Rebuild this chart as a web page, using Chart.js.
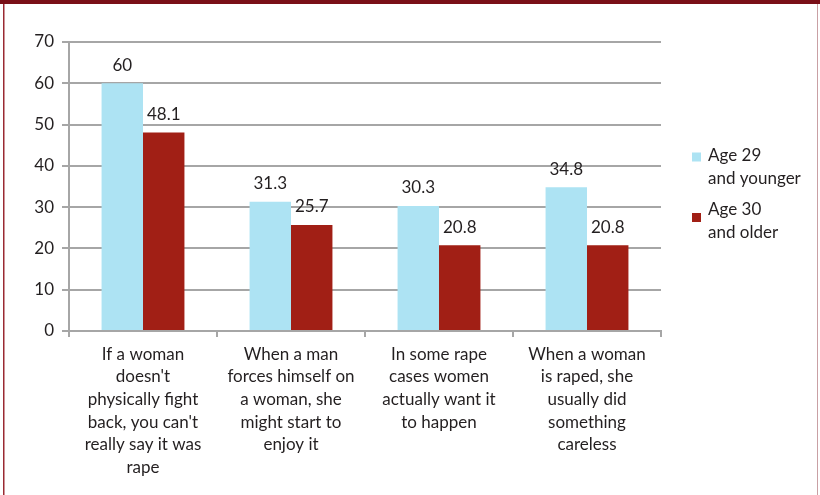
<!DOCTYPE html>
<html>
<head>
<meta charset="utf-8">
<script src="https://cdn.jsdelivr.net/npm/chart.js@4"></script>
<style>
  html, body { margin: 0; padding: 0; background: #fff; }
  #wrap { width: 820px; height: 495px; position: relative; }
</style>
</head>
<body>
<div id="wrap"><canvas id="myChart" width="820" height="495"></canvas></div>
<script>
// data
var categories = [
  ["If a woman", "doesn't", "physically fight", "back, you can't", "really say it was", "rape"],
  ["When a man", "forces himself on", "a woman, she", "might start to", "enjoy it"],
  ["In some rape", "cases women", "actually want it", "to happen"],
  ["When a woman", "is raped, she", "usually did", "something", "careless"]
];
var seriesNames = [["Age 29", "and younger"], ["Age 30", "and older"]];
var youngValues = [60, 31.3, 30.3, 34.8];
var olderValues = [48.1, 25.7, 20.8, 20.8];
var yTicks = [0, 10, 20, 30, 40, 50, 60, 70];

var FONT = "Lato, 'Open Sans', sans-serif";
var TEXT = "#231f20";
var GRID = "#a6a6a6";
var colors = ["#ade3f3", "#a11f15"];

// frame, value labels and legend
var extras = {
  id: "extras",
  beforeDraw: function(chart) {
    var c = chart.ctx;
    c.save();
    c.fillStyle = "#fff";
    c.fillRect(0, 0, chart.width, chart.height);
    c.fillStyle = "#7a0f17";
    c.fillRect(0, 0, chart.width, 4);
    c.fillStyle = "#9a2a32";
    c.fillRect(3, 4, 1.5, chart.height - 4);
    c.fillStyle = "#c9a0a4";
    c.fillRect(817, 4, 1, chart.height - 4);
    c.restore();
  },
  afterDatasetsDraw: function(chart) {
    var c = chart.ctx;
    c.save();
    c.font = "17px " + FONT;
    c.fillStyle = TEXT;
    c.textAlign = "center";
    c.textBaseline = "middle";
    chart.data.datasets.forEach(function(ds, i) {
      chart.getDatasetMeta(i).data.forEach(function(bar, j) {
        c.fillText(String(ds.data[j]), bar.x, bar.y - 18);
      });
    });
    // legend
    var tops = [156, 210];
    var sq = [157, 217.5];
    c.textAlign = "left";
    chart.data.datasets.forEach(function(ds, i) {
      c.fillStyle = ds.backgroundColor;
      c.fillRect(692, sq[i] - 4.5, 9, 9);
      c.fillStyle = TEXT;
      seriesNames[i].forEach(function(line, k) {
        c.fillText(line, 708, tops[i] + k * 22.5);
      });
    });
    c.restore();
  }
};

var ctx = document.getElementById("myChart");
var myChart = new Chart(ctx, {
  type: "bar",
  data: {
    labels: categories,
    datasets: [
      {
        label: seriesNames[0].join(" "),
        data: youngValues,
        backgroundColor: colors[0],
        categoryPercentage: 0.56,
        barPercentage: 1
      },
      {
        label: seriesNames[1].join(" "),
        data: olderValues,
        backgroundColor: colors[1],
        categoryPercentage: 0.56,
        barPercentage: 1
      }
    ]
  },
  options: {
    responsive: false,
    animation: false,
    layout: { padding: { top: 42, right: 159, left: 0, bottom: 0 } },
    plugins: {
      legend: { display: false },
      tooltip: { enabled: false }
    },
    scales: {
      x: {
        afterFit: function(scale) { scale.height = 164; },
        grid: {
          offset: true,
          drawOnChartArea: false,
          drawTicks: true,
          tickLength: 6,
          color: GRID,
          lineWidth: 2
        },
        border: { color: GRID, width: 2 },
        ticks: {
          color: TEXT,
          maxRotation: 0,
          autoSkip: false,
          padding: 6,
          font: { family: FONT, size: 17, lineHeight: 1.33 }
        }
      },
      y: {
        min: 0,
        max: 70,
        afterFit: function(scale) { scale.width = 69; },
        afterBuildTicks: function(scale) {
          scale.ticks = yTicks.map(function(v) { return { value: v }; });
        },
        grid: {
          color: GRID,
          lineWidth: 2,
          tickLength: 7
        },
        border: { color: GRID, width: 2 },
        ticks: {
          color: TEXT,
          padding: 8,
          font: { family: FONT, size: 17 }
        }
      }
    }
  },
  plugins: [extras]
});
</script>
</body>
</html>
